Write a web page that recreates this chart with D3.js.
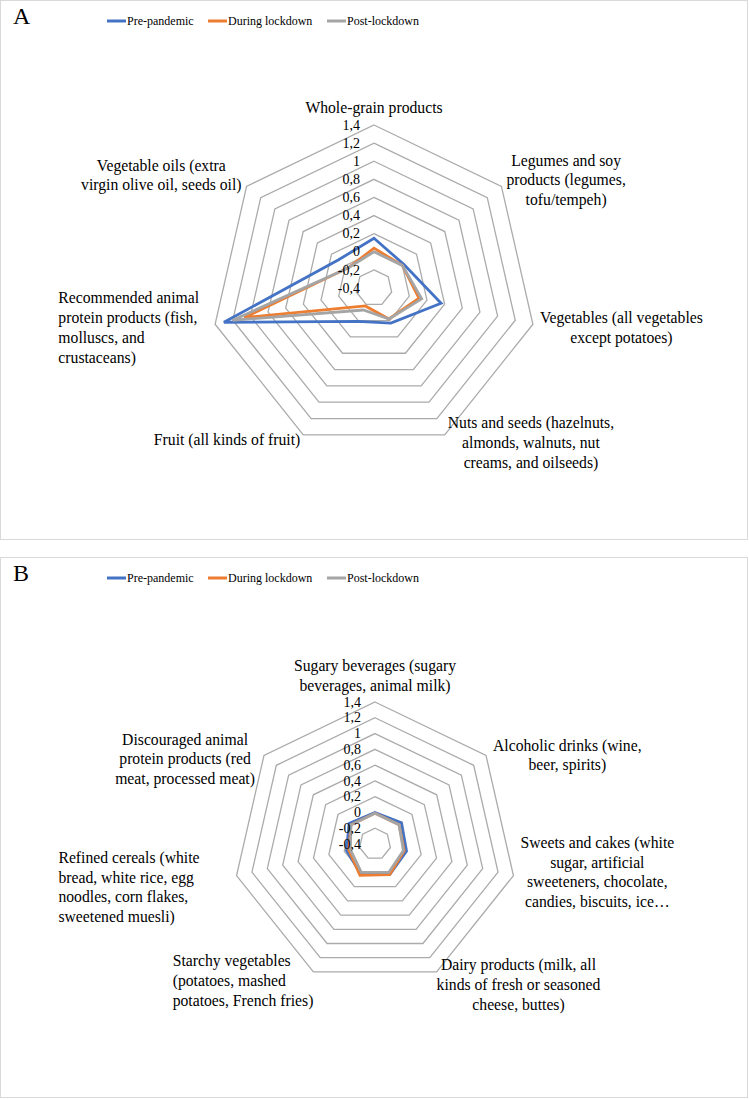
<!DOCTYPE html>
<html><head><meta charset="utf-8">
<script src="https://cdn.jsdelivr.net/npm/d3@7"></script>
<style>
html,body{margin:0;padding:0;background:#fff;}
svg{display:block;}
svg text{font-family:"Liberation Serif","Times New Roman",Times,serif;}
</style></head>
<body><svg id="chart" width="749" height="1099"></svg>
<script>
// ---------- DATA ----------
const seriesNames = ["Pre-pandemic", "During lockdown", "Post-lockdown"];
const seriesColors = ["#4472C4", "#ED7D31", "#A5A5A5"];
const tickValues = [-0.4, -0.2, 0, 0.2, 0.4, 0.6, 0.8, 1, 1.2, 1.4];
const tickLabels = ["-0,4", "-0,2", "0", "0,2", "0,4", "0,6", "0,8", "1", "1,2", "1,4"];

const categoriesA = [
  ["Whole-grain products"],
  ["Legumes and soy", "products (legumes,", "tofu/tempeh)"],
  ["Vegetables (all vegetables", "except potatoes)"],
  ["Nuts and seeds (hazelnuts,", "almonds, walnuts, nut", "creams, and oilseeds)"],
  ["Fruit (all kinds of fruit)"],
  ["Recommended animal", "protein products (fish,", "molluscs, and", "crustaceans)"],
  ["Vegetable oils (extra", "virgin olive oil, seeds oil)"]
];
const preA    = [0.15, 0.02, 0.36, 0.03, 0.01, 1.30, 0.10];
const duringA = [0.04, 0.00, 0.11, -0.02, -0.18, 1.07, -0.04];
const postA   = [0.00, 0.00, 0.14, -0.02, -0.13, 1.20, -0.04];

const categoriesB = [
  ["Sugary beverages (sugary", "beverages, animal milk)"],
  ["Alcoholic drinks (wine,", "beer, spirits)"],
  ["Sweets and cakes (white", "sugar, artificial", "sweeteners, chocolate,", "candies, biscuits, ice…"],
  ["Dairy products (milk, all", "kinds of fresh or seasoned", "cheese, buttes)"],
  ["Starchy vegetables", "(potatoes, mashed", "potatoes, French fries)"],
  ["Refined cereals (white", "bread, white rice, egg", "noodles, corn flakes,", "sweetened muesli)"],
  ["Discouraged animal", "protein products (red", "meat, processed meat)"]
];
const preB    = [0.00, 0.03, 0.01, 0.03, 0.02, -0.03, 0.02];
const duringB = [-0.01, -0.01, -0.02, 0.03, 0.04, -0.06, -0.01];
const postB   = [-0.01, -0.01, -0.03, 0.00, 0.00, -0.08, -0.01];

// ---------- LAYOUT (label offsets from each outer vertex) ----------
const labelLayoutA = [
  {dx: 0, dy: -17, anchor: "middle", align: "center"},
  {dx: 5, dy: -26, anchor: "start", align: "center"},
  {dx: 7, dy: -6, anchor: "start", align: "center"},
  {dx: 3, dy: -12, anchor: "start", align: "center"},
  {dx: -3, dy: 5, anchor: "end", align: "center"},
  {dx: -16, dy: -26, anchor: "end", align: "left"},
  {dx: -5, dy: -21, anchor: "end", align: "center"}
];
const labelLayoutB = [
  {dx: 0, dy: -36, anchor: "middle", align: "center"},
  {dx: 7, dy: -10, anchor: "start", align: "center"},
  {dx: 7, dy: -33, anchor: "start", align: "center"},
  {dx: 0, dy: -7, anchor: "start", align: "center"},
  {dx: 0, dy: -11, anchor: "end", align: "left"},
  {dx: -37, dy: -18, anchor: "end", align: "left"},
  {dx: -9, dy: -16, anchor: "end", align: "center"}
];

// ---------- DRAW ----------
const svg = d3.select("#chart");
const FS = 15.7, LH = 19.8, LEGFS = 12, TICKFS = 14;

function panel(cfg) {
  const g = svg.append("g");
  g.append("rect").attr("x", 0.5).attr("y", cfg.top + 0.5).attr("width", 747).attr("height", cfg.h)
    .attr("fill", "#fff").attr("stroke", "#d9d9d9").attr("stroke-width", 1);
  g.append("text").attr("x", 13).attr("y", cfg.top + 24).attr("font-size", 24).attr("fill", "#000").text(cfg.letter);

  // legend
  const legX = [107, 208, 327];
  const ly = cfg.top + 21;
  seriesNames.forEach((s, i) => {
    g.append("line").attr("x1", legX[i]).attr("x2", legX[i] + 19).attr("y1", ly).attr("y2", ly)
      .attr("stroke", seriesColors[i]).attr("stroke-width", 3);
    g.append("text").attr("x", legX[i] + 20).attr("y", ly).attr("dy", "0.33em")
      .attr("font-size", LEGFS).attr("fill", "#000").text(s);
  });

  const n = cfg.cats.length;
  const r = d3.scaleLinear().domain([-0.4, 1.4]).range([0, cfg.R]);
  const ang = d3.scaleLinear().domain([0, n]).range([0, 2 * Math.PI]);
  const pt = (i, v) => [cfg.cx + r(v) * Math.sin(ang(i)), cfg.cy - r(v) * Math.cos(ang(i))];
  const lineGen = d3.line().curve(d3.curveLinearClosed);

  // rings
  tickValues.slice(1).forEach(t => {
    g.append("path").attr("d", lineGen(d3.range(n).map(i => pt(i, t))))
      .attr("fill", "none").attr("stroke", "#ababab").attr("stroke-width", 1.3);
  });

  // series
  cfg.series.forEach((vals, k) => {
    g.append("path").attr("d", lineGen(vals.map((v, i) => pt(i, v))))
      .attr("fill", "none").attr("stroke", seriesColors[k]).attr("stroke-width", 2.8)
      .attr("stroke-linejoin", "miter");
  });

  // tick labels
  tickValues.forEach((t, j) => {
    g.append("text").attr("x", cfg.cx - 14).attr("y", cfg.cy - r(t)).attr("dy", "0.33em")
      .attr("text-anchor", "end").attr("font-size", TICKFS).attr("fill", "#000").text(tickLabels[j]);
  });

  // category labels
  cfg.cats.forEach((lines, i) => {
    const L = cfg.layout[i];
    const [vx, vy] = pt(i, 1.4);
    const tg = g.append("g");
    const texts = lines.map(l => tg.append("text").attr("font-size", FS).attr("fill", "#000")
      .attr("dy", "0.33em").text(l));
    const w = d3.max(texts, t => t.node().getComputedTextLength());
    let left;
    if (L.anchor === "middle") left = vx + L.dx - w / 2;
    else if (L.anchor === "start") left = vx + L.dx;
    else left = vx + L.dx - w;
    texts.forEach((t, k) => {
      if (L.align === "center") t.attr("x", left + w / 2).attr("text-anchor", "middle");
      else t.attr("x", left).attr("text-anchor", "start");
      t.attr("y", vy + L.dy + k * LH);
    });
  });
}

panel({top: 0, h: 539, letter: "A", cx: 374, cy: 288, R: 163,
  cats: categoriesA, series: [preA, duringA, postA], layout: labelLayoutA});
panel({top: 557, h: 540, letter: "B", cx: 375, cy: 844, R: 142,
  cats: categoriesB, series: [preB, duringB, postB], layout: labelLayoutB});
</script></body></html>
